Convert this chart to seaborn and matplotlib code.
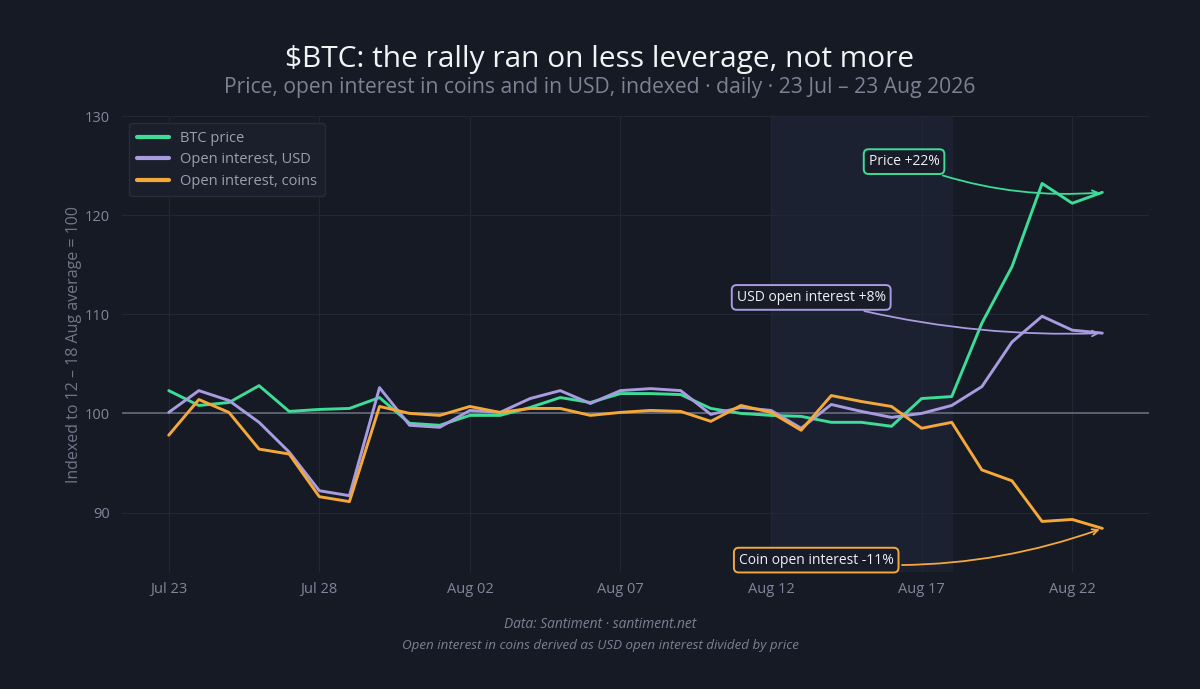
import pandas as pd
import matplotlib
matplotlib.use('Agg')
import matplotlib.pyplot as plt
import matplotlib.dates as mdates
import seaborn as sns

dates = pd.date_range('2026-07-23', '2026-08-23', freq='D')

btc_price = [102.3, 100.8, 101.1, 102.8, 100.2, 100.4, 100.5, 101.6, 99.0, 98.8,
             99.8, 99.8, 100.6, 101.6, 101.1, 102.0, 102.0, 101.9, 100.5, 100.0,
             99.8, 99.7, 99.1, 99.1, 98.7, 101.5, 101.7, 109.1, 114.8, 123.2,
             121.2, 122.3]
oi_usd = [100.1, 102.3, 101.3, 99.1, 96.1, 92.2, 91.7, 102.6, 98.8, 98.6,
          100.3, 100.1, 101.5, 102.3, 101.0, 102.3, 102.5, 102.3, 99.9, 100.6,
          100.3, 98.5, 100.9, 100.2, 99.6, 100.0, 100.8, 102.7, 107.2, 109.8,
          108.4, 108.1]
oi_coins = [97.8, 101.4, 100.1, 96.4, 95.9, 91.6, 91.1, 100.7, 100.0, 99.8,
            100.7, 100.1, 100.5, 100.5, 99.8, 100.1, 100.3, 100.2, 99.2, 100.8,
            100.1, 98.3, 101.8, 101.2, 100.7, 98.5, 99.1, 94.3, 93.2, 89.1,
            89.3, 88.4]

series_names = ['BTC price', 'Open interest, USD', 'Open interest, coins']
colors = ['#3ddc97', '#a99be0', '#f5a83a']
notes = ['Price +22%', 'USD open interest +8%', 'Coin open interest -11%']

df = pd.DataFrame({'date': dates, series_names[0]: btc_price,
                   series_names[1]: oi_usd, series_names[2]: oi_coins})
long_df = df.melt(id_vars='date', var_name='series', value_name='value')

bg = '#151a24'
sns.set_theme(style='dark', rc={'axes.facecolor': bg, 'figure.facecolor': bg})
plt.rcParams['font.family'] = ['Open Sans', 'DejaVu Sans']

fig = plt.figure(figsize=(12, 6.89), dpi=100)
ax = fig.add_axes([0.1017, 0.1698, 0.8558, 0.6618])

# shaded base window used for indexing
ax.axvspan(pd.Timestamp('2026-08-12'), pd.Timestamp('2026-08-18'), color='#1b2131', zorder=0)
ax.axhline(100, color='#6c7282', lw=1.1, zorder=1)

sns.lineplot(data=long_df, x='date', y='value', hue='series', hue_order=series_names,
             palette=colors, lw=2.1, ax=ax, zorder=3)

ax.set_ylim(84, 130)
ax.set_yticks([90, 100, 110, 120, 130])
ticks = pd.date_range('2026-07-23', '2026-08-23', freq='5D')
ax.set_xticks(ticks)
ax.xaxis.set_major_formatter(mdates.DateFormatter('%b %d'))
ax.grid(True, color='#212734', lw=0.8)
for s in ax.spines.values():
    s.set_visible(False)
ax.tick_params(colors='#80879a', labelsize=10.5, length=0)
ax.tick_params(axis='x', pad=7)
ax.tick_params(axis='y', pad=9)
ax.set_xlabel('')
ax.set_ylabel('Indexed to 12 – 18 Aug average = 100', color='#6f7688', fontsize=11.5, labelpad=2)

leg = ax.legend(loc='upper left', frameon=True, fontsize=10.5, borderpad=0.5,
                handlelength=2.2, labelspacing=0.45)
leg.get_frame().set_facecolor('#1a1f2b')
leg.get_frame().set_edgecolor('#262c3a')
leg.get_frame().set_alpha(1)
for t in leg.get_texts():
    t.set_color('#9aa0b0')
for h in leg.get_lines():
    h.set_linewidth(3)

last = dates[-1]
ends = [btc_price[-1], oi_usd[-1], oi_coins[-1]]
note_pos = [(pd.Timestamp('2026-08-16 10:00'), 125.4, 0.12),
            (pd.Timestamp('2026-08-13 08:00'), 111.7, 0.08),
            (pd.Timestamp('2026-08-13 12:00'), 85.2, 0.12)]
for note, col, end, (tx, ty, rad) in zip(notes, colors, ends, note_pos):
    ax.annotate(note, xy=(last, end), xytext=(tx, ty), ha='center', va='center',
                color='#eef0f4', fontsize=10,
                bbox=dict(boxstyle='round,pad=0.35', fc='#171c28', ec=col, lw=1.4),
                arrowprops=dict(arrowstyle='->', color=col, lw=1.3,
                                connectionstyle=f'arc3,rad={rad}'), zorder=5)

fig.text(0.5, 0.914, '$BTC: the rally ran on less leverage, not more', ha='center',
         va='center', color='#f2f3f5', fontsize=21.5)
fig.text(0.5, 0.873, 'Price, open interest in coins and in USD, indexed · daily · 23 Jul – 23 Aug 2026',
         ha='center', va='center', color='#7b8294', fontsize=15.2)
fig.text(0.5, 0.094, 'Data: Santiment · santiment.net', ha='center', va='center',
         color='#7b8294', fontsize=9.9, style='italic')
fig.text(0.5, 0.063, 'Open interest in coins derived as USD open interest divided by price',
         ha='center', va='center', color='#7b8294', fontsize=9.6, style='italic')

fig.savefig('out.png', dpi=100, facecolor=bg)
